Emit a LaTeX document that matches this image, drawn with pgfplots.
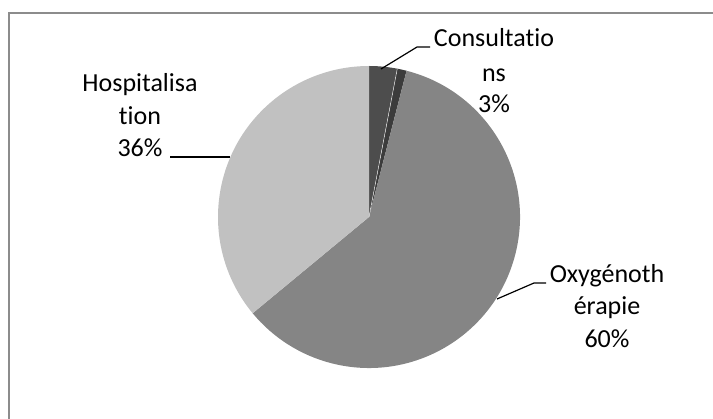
\documentclass[border=0pt]{standalone}
\usepackage{pgfplots}
\pgfplotsset{compat=1.18}
\usepackage{fontspec}
\setmainfont[Ligatures={NoCommon,NoDiscretionary,NoRare}]{Carlito}
\definecolor{cons}{HTML}{4D4D4D}
\definecolor{autre}{HTML}{3C3C3C}
\definecolor{oxy}{HTML}{858585}
\definecolor{hosp}{HTML}{C1C1C1}
\definecolor{frame}{HTML}{8C8C8C}
% values (percent)
\def\va{3}\def\vb{1}\def\vc{60}\def\vd{36}
\def\R{151bp}
\begin{document}
\begin{tikzpicture}
\begin{axis}[hide axis, scale only axis, width=713bp, height=419bp,
  xmin=0, xmax=713, ymin=0, ymax=419, clip=true]
\draw[frame, line width=1.6bp] (axis cs:9,-30) -- (axis cs:9,405.7) -- (axis cs:760,405.7);
% pie slices, clockwise from top
\fill[cons] (axis cs:369,202) -- ++(90:\R) arc[start angle=90, end angle={90-3.6*\va}, radius=\R] -- cycle;
\fill[autre] (axis cs:369,202) -- ++({90-3.6*\va}:\R) arc[start angle={90-3.6*\va}, end angle={90-3.6*(\va+\vb)}, radius=\R] -- cycle;
\fill[oxy] (axis cs:369,202) -- ++({90-3.6*(\va+\vb)}:\R) arc[start angle={90-3.6*(\va+\vb)}, end angle={90-3.6*(\va+\vb+\vc)}, radius=\R] -- cycle;
\fill[hosp] (axis cs:369,202) -- ++({90-3.6*(\va+\vb+\vc)}:\R) arc[start angle={90-3.6*(\va+\vb+\vc)}, end angle={90-3.6*(\va+\vb+\vc+\vd)}, radius=\R] -- cycle;
\draw[white, line width=0.4bp] (axis cs:369,202) -- ++({90-3.6*\va}:\R);
% leader lines
\draw[black, line width=1.2bp] (axis cs:381,350) -- (axis cs:417,372) -- (axis cs:430,372);
\draw[black, line width=1.2bp] (axis cs:497,120) -- (axis cs:534,136) -- (axis cs:546,136);
\draw[black, line width=1.2bp] (axis cs:170,262) -- (axis cs:230,262);
% labels
\begin{scope}[every node/.style={font=\fontsize{26bp}{33bp}\selectfont, anchor=base, inner sep=0pt}]
\node at (axis cs:494,372) {Consultatio};
\node at (axis cs:494,337) {ns};
\node at (axis cs:494,306) {3\%};
\node at (axis cs:607,136) {Oxygénoth};
\node at (axis cs:607,104) {érapie};
\node at (axis cs:607,71) {60\%};
\node at (axis cs:140,327) {Hospitalisa};
\node at (axis cs:140,294) {tion};
\node at (axis cs:140,262) {36\%};
\end{scope}
\end{axis}
\pgfresetboundingbox
\useasboundingbox (current axis.south west) rectangle (current axis.north east);
\end{tikzpicture}
\end{document}
